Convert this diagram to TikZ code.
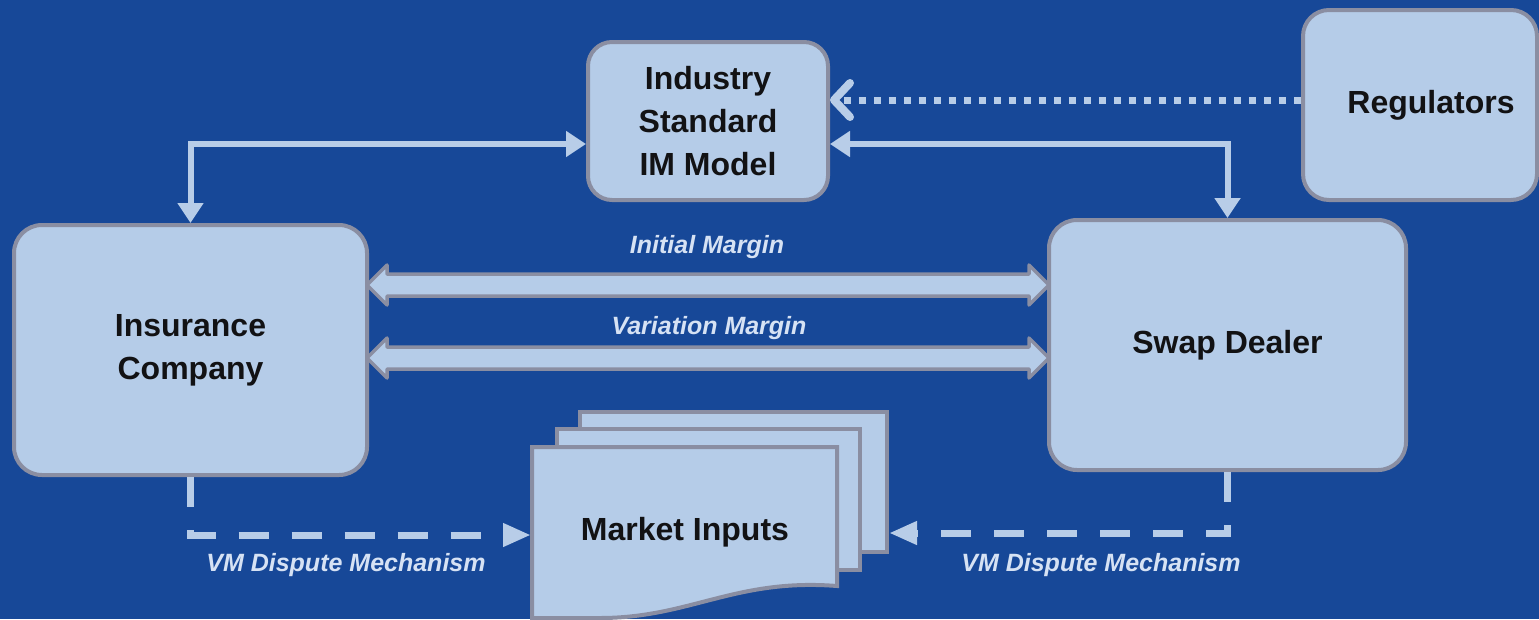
\documentclass[tikz,border=0pt]{standalone}
\usepackage{fontspec}
\setmainfont{Liberation Sans}
\usetikzlibrary{arrows.meta,calc}
\definecolor{bg}{RGB}{23,72,152}
\definecolor{boxfill}{RGB}{181,204,232}
\definecolor{boxline}{RGB}{138,142,162}
\definecolor{connc}{RGB}{184,205,232}
\definecolor{lblc}{RGB}{214,226,244}
\definecolor{txtc}{RGB}{18,18,20}
\begin{document}
\begin{tikzpicture}[x=1pt,y=-1pt,
  box/.style={draw=boxline, line width=4pt, fill=boxfill, rounded corners=28pt,
    text=txtc, font=\fontsize{32}{43}\selectfont\bfseries, align=center, inner sep=0pt},
  docbox/.style={draw=boxline, line width=4pt, fill=boxfill, inner sep=0pt},
  conline/.style={draw=connc, line width=6pt},
  tipA/.style={{Triangle[length=20pt,width=25pt]}-{Triangle[length=20pt,width=25pt]}},
  dotline/.style={draw=connc, line width=7pt, dash pattern=on 7pt off 8pt,
    -{Straight Barb[length=16pt,width=34pt,line width=8pt,line cap=round,line join=round]}},
  dashline/.style={draw=connc, line width=7pt, dash pattern=on 30pt off 23pt,
    -{Triangle[length=28pt,width=22pt]}},
  bigarrow/.style={fill=boxfill, draw=boxline, line width=3.5pt, line join=round},
  lab/.style={font=\fontsize{25}{30}\selectfont\bfseries\itshape, text=lblc},
  doctext/.style={font=\fontsize{32}{43}\selectfont\bfseries, text=txtc}
]
\fill[bg] (0,0) rectangle (1539,619);
\useasboundingbox (0,0) rectangle (1539,619);

% boxes
\node[box, minimum width=353pt, minimum height=250pt] (ins) at (190.5,350) {Insurance\\Company};
\node[box, minimum width=357pt, minimum height=250pt] (swp) at (1227.5,345) {Swap Dealer};
\node[box, minimum width=240pt, minimum height=158pt, rounded corners=24pt] (ind) at (708,121) {Industry\\Standard\\IM Model};
\node[box, minimum width=234pt, minimum height=190pt, rounded corners=26pt] (reg) at (1420,105) {\hspace*{22pt}Regulators};

% market inputs documents
\node[docbox, minimum width=307pt, minimum height=140pt] (doc3) at (733.5,482) {};
\node[docbox, minimum width=303pt, minimum height=141pt] (doc2) at (708.5,499.5) {};
\draw[docbox] (532,447) -- (837,447) -- (837,586)
  .. controls (735,578) and (690,618) .. (600,618) -- (532,618) -- cycle;
\node[doctext] (mkt) at (685,532) {Market Inputs};

% connectors to IM model
\draw[conline, tipA] (ins.north) |- ($(ind.west)+(0,23)$);
\draw[conline, tipA] ($(ind.east)+(0,23)$) -| (swp.north);
\draw[dotline] ($(reg.west)+(0,-5)$) -- ($(ind.east)+(0,-21)$);

% margin arrows
\coordinate (imL) at ($(ins.east)+(-2,-65)$);
\coordinate (imR) at ($(swp.west)+(2,-60)$);
\coordinate (vmL) at ($(ins.east)+(-2,8)$);
\coordinate (vmR) at ($(swp.west)+(2,13)$);
\path[bigarrow] (imL) -- ++(20,-20) -- ++(0,9) -- ($(imR)+(-20,-11)$) -- ++(0,-9) -- (imR)
  -- ++(-20,20) -- ++(0,-9) -- ($(imL)+(20,11)$) -- ++(0,9) -- cycle;
\path[bigarrow] (vmL) -- ++(20,-20) -- ++(0,9) -- ($(vmR)+(-20,-11)$) -- ++(0,-9) -- (vmR)
  -- ++(-20,20) -- ++(0,-9) -- ($(vmL)+(20,11)$) -- ++(0,9) -- cycle;
\node[lab] (lim) at (707,247) {Initial Margin};
\node[lab] (lvm) at (709,328) {Variation Margin};

% VM dispute
\coordinate (d1w) at (531,535);
\coordinate (d3e) at ($(doc3.east)+(0,51)$);
\draw[dashline] (ins.south) |- (d1w);
\draw[dashline] (swp.south) |- (d3e);
\node[lab] (lvd1) at (346,565) {VM Dispute Mechanism};
\node[lab] (lvd2) at (1101,565) {VM Dispute Mechanism};
\end{tikzpicture}
\end{document}
